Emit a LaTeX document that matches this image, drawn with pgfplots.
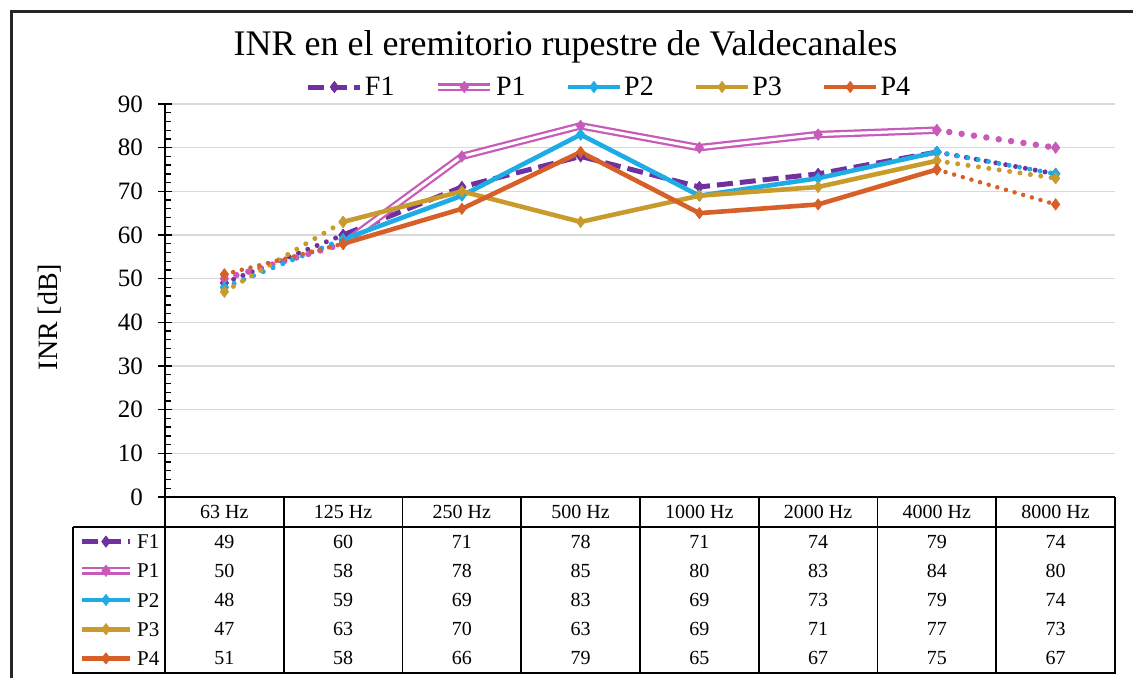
\documentclass[border=0pt]{standalone}
\usepackage{pgfplots}
\pgfplotsset{compat=1.18}
\usepackage{pgfplotstable}
\usepackage{fontspec}
\setmainfont{Liberation Serif}
\definecolor{F1c}{RGB}{112,48,160}
\definecolor{P1c}{RGB}{200,90,185}
\definecolor{P2c}{RGB}{30,172,228}
\definecolor{P3c}{RGB}{200,155,45}
\definecolor{P4c}{RGB}{215,95,40}
\definecolor{gridc}{RGB}{217,217,217}

\pgfplotstableread{
x F1 P1 P2 P3 P4
0 49 50 48 47 51
1 60 58 59 63 58
2 71 78 69 70 66
3 78 85 83 63 79
4 71 80 69 69 65
5 74 83 73 71 67
6 79 84 79 77 75
7 74 80 74 73 67
}\data

\pgfplotsset{
  seg/.style 2 args={#1, line width=#2, line join=round, mark=diamond*, mark size=5.8pt,
     mark options={solid, fill=#1, draw=#1, line width=0.5pt}},
  dots/.style={line cap=round, dash pattern=on 0pt off #1},
  F1main/.style={seg={F1c}{5pt}, dash pattern=on 16pt off 7pt},
  P2main/.style={seg={P2c}{4.6pt}},
  P3main/.style={seg={P3c}{4.6pt}},
  P4main/.style={seg={P4c}{4.6pt}},
  P1legend/.style={legend image code/.code={
     \draw[P1c, line width=7.5pt] (0pt,0pt) -- (#1,0pt);
     \draw[white, line width=3pt] (0pt,0pt) -- (#1,0pt);
     \draw[P1c, fill=P1c, line width=0.5pt] plot[mark=diamond*, mark size=5.8pt, only marks] coordinates {(0.5*#1,0pt)};
  }},
}

\begin{document}
\begin{tikzpicture}[x=1pt,y=1pt]
\useasboundingbox (0,0) rectangle (1133,678);
\fill[white] (0,0) rectangle (1133,678);
\draw[line width=3pt, black!85] (11,0) -- (11,666) -- (1133,666);

\node[font=\fontsize{36}{40}\selectfont] at (565.5,631) {INR en el eremitorio rupestre de Valdecanales};
\node[font=\fontsize{28}{30}\selectfont, rotate=90] at (50,361) {INR [dB]};

\begin{axis}[
  at={(165pt,181pt)}, anchor=south west,
  scale only axis, width=950pt, height=393pt,
  xmin=-0.5, xmax=7.5, ymin=0, ymax=90,
  axis x line*=bottom, axis y line*=left,
  axis line style={-, line width=2pt, black},
  ytick={0,10,...,90},
  minor y tick num=4,
  tick align=center,
  major tick length=14pt,
  minor tick length=6pt,
  major tick style={line width=1.6pt, black},
  minor tick style={line width=1.3pt, black, xshift=3pt},
  ymajorgrids, major grid style={gridc, line width=1.5pt},
  xtick={0,...,7},
  xticklabels={63 Hz,125 Hz,250 Hz,500 Hz,1000 Hz,2000 Hz,4000 Hz,8000 Hz},
  x tick style={draw=none},
  xticklabel style={font=\fontsize{20}{22}\selectfont, anchor=center, yshift=-8pt},
  yticklabel style={font=\fontsize{25}{27}\selectfont, inner sep=0pt, xshift=-15pt},
  /pgf/number format/assume math mode=true,
  clip=false,
  legend columns=5,
  legend style={at={(axis description cs:0.4674,1)}, anchor=center, yshift=17pt,
     draw=none, fill=none, inner sep=0pt,
     font=\fontsize{28}{30}\selectfont,
     nodes={inner sep=2pt},
     /tikz/every even column/.append style={column sep=38pt}},
  legend image code/.code={\draw[mark repeat=2,mark phase=2,#1] plot coordinates {(0pt,0pt)(26pt,0pt)(52pt,0pt)};},
]
% F1
\addplot[seg={F1c}{5pt}, dots=10pt, forget plot, restrict x to domain=0:1] table[x=x,y=F1]{\data};
\addplot[F1main, restrict x to domain=1:6] table[x=x,y=F1]{\data};
\addlegendentry{F1}
\addplot[seg={F1c}{5pt}, dots=10pt, forget plot, restrict x to domain=6:7] table[x=x,y=F1]{\data};
% P1
\addplot[seg={P1c}{6.5pt}, dots=12.5pt, forget plot, restrict x to domain=0:1] table[x=x,y=P1]{\data};
\addplot[P1c, line width=7.5pt, line join=round, forget plot, restrict x to domain=1:6] table[x=x,y=P1]{\data};
\addplot[white, line width=3pt, line join=round, forget plot, restrict x to domain=1:6] table[x=x,y=P1]{\data};
\addplot[seg={P1c}{6.5pt}, dots=12.5pt, forget plot, restrict x to domain=6:7] table[x=x,y=P1]{\data};
\addplot[only marks, mark=diamond*, mark size=5.8pt, P1c, mark options={fill=P1c, line width=0.5pt}, P1legend=52pt, restrict x to domain=1:6] table[x=x,y=P1]{\data};
\addlegendentry{P1}
% P2
\addplot[seg={P2c}{5pt}, dots=10.5pt, forget plot, restrict x to domain=0:1] table[x=x,y=P2]{\data};
\addplot[P2main, restrict x to domain=1:6] table[x=x,y=P2]{\data};
\addlegendentry{P2}
\addplot[seg={P2c}{5pt}, dots=10.5pt, forget plot, restrict x to domain=6:7] table[x=x,y=P2]{\data};
% P3
\addplot[seg={P3c}{5pt}, dots=10.5pt, forget plot, restrict x to domain=0:1] table[x=x,y=P3]{\data};
\addplot[P3main, restrict x to domain=1:6] table[x=x,y=P3]{\data};
\addlegendentry{P3}
\addplot[seg={P3c}{5pt}, dots=10.5pt, forget plot, restrict x to domain=6:7] table[x=x,y=P3]{\data};
% P4
\addplot[seg={P4c}{4.5pt}, dots=9pt, forget plot, restrict x to domain=0:1] table[x=x,y=P4]{\data};
\addplot[P4main, restrict x to domain=1:6] table[x=x,y=P4]{\data};
\addlegendentry{P4}
\addplot[seg={P4c}{4.5pt}, dots=9pt, forget plot, restrict x to domain=6:7] table[x=x,y=P4]{\data};
\end{axis}

% data table grid
\draw[line width=1.8pt] (165,181) -- (165,5);
\foreach \k in {1,...,8} \draw[line width=1.6pt] ({165+118.75*\k},181) -- ({165+118.75*\k},5);
\draw[line width=1.6pt] (73,151) -- (1115,151);
\draw[line width=1.6pt] (72.2,5) -- (1115.8,5);
\draw[line width=1.6pt] (73,151) -- (73,5);

\foreach \s [count=\r from 0] in {F1,P1,P2,P3,P4} {
  \foreach \k in {0,...,7} {
    \pgfplotstablegetelem{\k}{\s}\of\data
    \node[font=\fontsize{20}{22}\selectfont] at ({165+118.75*(\k+0.5)},{136.4-29.2*\r}) {\pgfplotsretval};
  }
}

% legend keys of the data table
\begin{axis}[
  at={(73pt,5pt)}, anchor=south west, scale only axis, width=92pt, height=146pt,
  hide axis, xmin=0, xmax=1, ymin=0, ymax=1,
  legend columns=1,
  legend cell align=left,
  legend style={at={(axis description cs:0,1)}, anchor=north west, xshift=5pt, yshift=-7.4pt,
     draw=none, fill=none, inner sep=0pt, row sep=15.2pt,
     font=\fontsize{21}{22}\selectfont,
     nodes={inner sep=0pt, text height=14pt, text depth=0pt}},
  legend image code/.code={\draw[mark repeat=2,mark phase=2,#1] plot coordinates {(0pt,0pt)(24pt,0pt)(48pt,0pt)};},
]
\addlegendimage{F1main}
\addlegendentry{\,F1}
\addlegendimage{only marks, mark=diamond*, mark size=5.8pt, P1c, mark options={fill=P1c, line width=0.5pt}, P1legend=48pt}
\addlegendentry{\,P1}
\addlegendimage{P2main}
\addlegendentry{\,P2}
\addlegendimage{P3main}
\addlegendentry{\,P3}
\addlegendimage{P4main}
\addlegendentry{\,P4}
\end{axis}
\end{tikzpicture}
\end{document}
